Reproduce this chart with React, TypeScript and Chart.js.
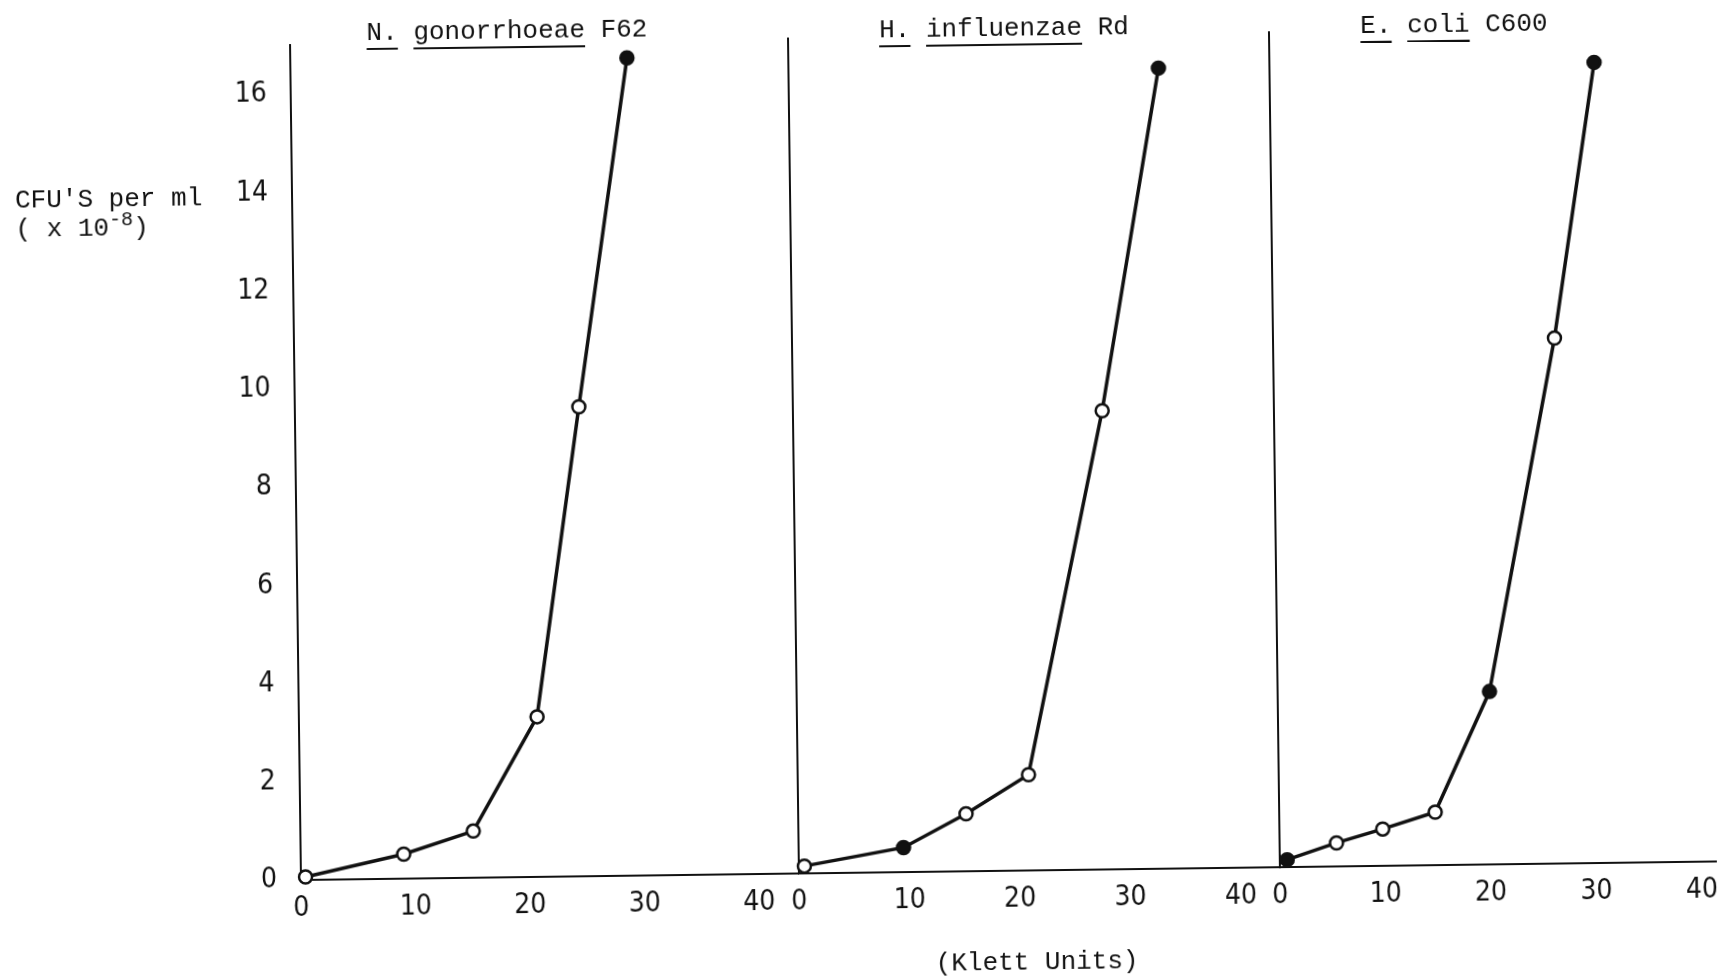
import React, { useEffect, useRef } from "react";
import { Chart, registerables } from "chart.js";

Chart.register(...registerables);

// ---- data ----
const X_TICKS = [0, 10, 20, 30, 40];
const Y_TICKS = [0, 2, 4, 6, 8, 10, 12, 14, 16];

const GONO_KLETT = [0.4, 9.0, 15.1, 20.8, 24.8, 29.4];
const GONO_CFU = [0.06, 0.5, 0.95, 3.26, 9.56, 16.65];
const GONO_FILLED = [false, false, false, false, false, true];

const HFLU_KLETT = [0.5, 9.5, 15.2, 20.9, 28.0, 33.5];
const HFLU_CFU = [0.15, 0.5, 1.17, 1.95, 9.34, 16.3];
const HFLU_FILLED = [false, true, false, false, false, true];

const ECOLI_KLETT = [0.7, 5.4, 9.8, 14.8, 20.1, 26.7, 30.8];
const ECOLI_CFU = [0.15, 0.48, 0.75, 1.08, 3.52, 10.7, 16.3];
const ECOLI_FILLED = [true, false, false, false, true, false, true];

const Y_LABEL_1 = "CFU'S per ml";
const X_LABEL = "(Klett Units)";

// ---- layout ----
const W = 1730;
const H = 980;
const AXIS_TOP = 45;
const AXIS_BOTTOM = 880;
const X_AXIS_H = 80;
const Y_MAX = 17;
const INK = "#111";
const TICK_FONT = "'Liberation Sans Narrow', 'DejaVu Sans Condensed', 'Liberation Sans', sans-serif";
const MONO = "'Liberation Mono', 'DejaVu Sans Mono', monospace";

const PANELS = [
  { xs: GONO_KLETT, ys: GONO_CFU, filled: GONO_FILLED, left: 301, right: 798, xMax: 43.4, showY: true },
  { xs: HFLU_KLETT, ys: HFLU_CFU, filled: HFLU_FILLED, left: 799, right: 1280, xMax: 43.55, showY: false },
  { xs: ECOLI_KLETT, ys: ECOLI_CFU, filled: ECOLI_FILLED, left: 1280, right: 1722, xMax: 41.4, showY: false },
];

function makeConfig(p: any): any {
  const yW = p.showY ? 121 : 0;
  return {
    type: "line",
    data: {
      datasets: [
        {
          data: p.xs.map((x: number, i: number) => ({ x, y: p.ys[i] })),
          borderColor: INK,
          borderWidth: 3.5,
          tension: 0,
          fill: false,
          clip: false,
          pointRadius: 6.5,
          pointBorderWidth: 2.5,
          pointBorderColor: INK,
          pointBackgroundColor: p.filled.map((f: boolean) => (f ? INK : "#fff")),
        },
      ],
    },
    options: {
      animation: false,
      responsive: false,
      devicePixelRatio: 1,
      events: [],
      layout: {
        padding: {
          left: p.left - yW,
          right: W - p.right,
          top: AXIS_TOP,
          bottom: H - AXIS_BOTTOM - X_AXIS_H,
        },
      },
      plugins: { legend: { display: false }, tooltip: { enabled: false }, title: { display: false } },
      scales: {
        x: {
          type: "linear",
          min: 0,
          max: p.xMax,
          grid: { display: false, drawTicks: false },
          border: { display: true, color: INK, width: 2 },
          ticks: { color: INK, padding: 12, font: { family: TICK_FONT, size: 28 } },
          afterBuildTicks: (ax: any) => {
            ax.ticks = X_TICKS.map((v) => ({ value: v }));
          },
          afterFit: (s: any) => {
            s.height = X_AXIS_H;
          },
        },
        y: {
          type: "linear",
          min: 0,
          max: Y_MAX,
          grid: { display: false, drawTicks: false },
          border: { display: true, color: INK, width: 2 },
          ticks: { display: p.showY, color: INK, padding: 24, font: { family: TICK_FONT, size: 28 } },
          afterBuildTicks: (ax: any) => {
            ax.ticks = Y_TICKS.map((v) => ({ value: v }));
          },
          afterFit: (s: any) => {
            s.width = yW;
          },
        },
      },
    },
  };
}

const textBase: React.CSSProperties = {
  position: "absolute",
  fontFamily: MONO,
  fontSize: 26,
  lineHeight: "30px",
  height: 30,
  whiteSpace: "pre",
  color: INK,
};
const ul: React.CSSProperties = {
  textDecoration: "underline",
  textUnderlineOffset: "8px",
  textDecorationThickness: "2px",
};

export default function App() {
  const refs = [useRef<HTMLCanvasElement>(null), useRef<HTMLCanvasElement>(null), useRef<HTMLCanvasElement>(null)];

  useEffect(() => {
    const charts = PANELS.map((p, i) => new Chart(refs[i].current as HTMLCanvasElement, makeConfig(p)));
    return () => charts.forEach((c) => c.destroy());
  }, []);

  return (
    <div style={{ position: "absolute", left: 0, top: 0, width: W, height: H, overflow: "hidden", background: "#fff" }}>
      <div
        style={{
          position: "absolute",
          left: 0,
          top: 0,
          width: W,
          height: H,
          transform: "rotate(-0.75deg)",
          transformOrigin: "301px 881px",
        }}
      >
        {refs.map((r, i) => (
          <canvas
            key={i}
            ref={r}
            width={W}
            height={H}
            style={{ position: "absolute", left: 0, top: 0, width: W, height: H }}
          />
        ))}

        <div style={{ ...textBase, left: 518, top: 34 - 15, transform: "translateX(-50%)" }}>
          <span style={ul}>N.</span> <span style={ul}>gonorrhoeae</span> F62
        </div>
        <div style={{ ...textBase, left: 1015, top: 38 - 15, transform: "translateX(-50%)" }}>
          <span style={ul}>H.</span> <span style={ul}>influenzae</span> Rd
        </div>
        <div style={{ ...textBase, left: 1465, top: 40 - 15, transform: "translateX(-50%)" }}>
          <span style={ul}>E.</span> <span style={ul}>coli</span> C600
        </div>

        <div style={{ ...textBase, left: 24, top: 197 - 15 }}>{Y_LABEL_1}</div>
        <div style={{ ...textBase, left: 24, top: 226 - 15 }}>
          {"( x 10"}
          <span style={{ fontSize: 20, position: "relative", top: -10 }}>-8</span>
          {")"}
        </div>

        <div style={{ ...textBase, left: 1036, top: 972 - 15, transform: "translateX(-50%)" }}>{X_LABEL}</div>
      </div>
    </div>
  );
}
